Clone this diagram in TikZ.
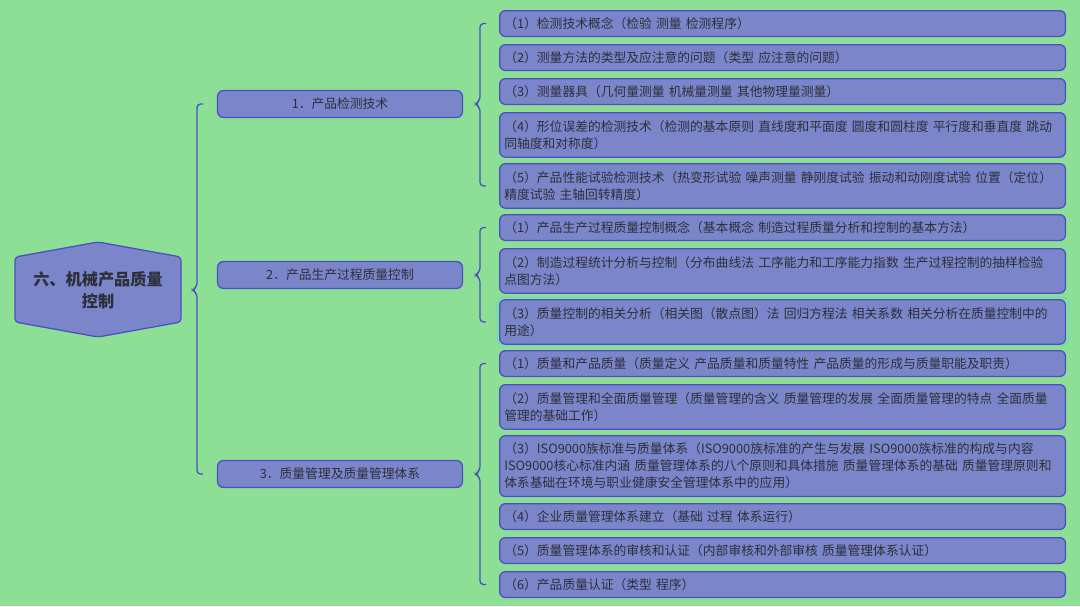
\documentclass[tikz,border=0pt]{standalone}
\usepackage{fontspec}
\setmainfont{Noto Sans CJK SC}
\usetikzlibrary{calc}
\definecolor{bgc}{HTML}{8EDF96}
\definecolor{boxc}{HTML}{7A86C9}
\definecolor{edgec}{HTML}{4B4FC2}
\definecolor{txt}{HTML}{2E2E3A}
\definecolor{hilite}{HTML}{5FD3D8}

\tikzset{
  leaf/.style={draw=edgec, fill=boxc, rounded corners=5pt, line width=1.1pt,
    anchor=north west, text width=475pt, inner xsep=4pt, inner ysep=1pt,
    align=left, text=txt, font=\fontsize{10.9}{14.5}\selectfont},
  mid/.style={draw=edgec, fill=boxc, rounded corners=5pt, line width=1.1pt,
    minimum width=209pt, minimum height=23pt, text=txt,
    font=\fontsize{10.9}{12}\selectfont},
  brace/.style={draw=edgec, line width=1.1pt, rounded corners=3pt}
}
% brace from #2 to #3 with its tip level with #1, at x = #4
\newcommand{\grp}[4]{%
  \path (#4,0 |- #1) coordinate (tp);
  \draw[brace] ({#4+6},0 |- #2) -- (#4,0 |- #2) -- ([yshift=3pt]tp)
    -- ([xshift=-4pt]tp) -- ([yshift=-3pt]tp) -- (#4,0 |- #3) -- ({#4+6},0 |- #3);
}

\begin{document}
\begin{tikzpicture}[x=0.03cm, y=-0.03cm]

% background
\fill[bgc] (0,0) rectangle (1080,606);
\useasboundingbox (0,0) rectangle (1080,606);

% root
\filldraw[fill=boxc, draw=edgec, line width=1.1pt, rounded corners=3pt]
  (98,242) -- (181,257) -- (181,322) -- (98,337) -- (15,322) -- (15,257) -- cycle;
\node[align=center, text=txt, font=\fontsize{13.8}{19}\selectfont\bfseries]
  (root) at (98,290) {六、机械产品质量\\控制};

% branches
\node[mid] (m1) at (340,104) {1．产品检测技术};
\node[mid] (m2) at (340,275) {2．产品生产过程质量控制};
\node[mid] (m3) at (340,474) {3．质量管理及质量管理体系};

% leaves of 1
\node[leaf, minimum height=22pt] (a1) at (499,10) {（1）检测技术概念（检验 测量 检测程序）};
\node[leaf, minimum height=22pt] (a2) at (499,44) {（2）测量方法的类型及应注意的问题（类型 应注意的问题）};
\node[leaf, minimum height=22pt] (a3) at (499,78) {（3）测量器具（几何量测量 机械量测量 其他物理量测量）};
\node[leaf, minimum height=38pt] (a4) at (499,112) {（4）形位误差的检测技术（检测的基本原则 直线度和平面度 圆度和圆柱度 平行度和垂直度 跳动\\同轴度和对称度）};
\node[leaf, minimum height=38pt] (a5) at (499,163) {（5）产品性能试验检测技术（热变形试验 噪声测量 静刚度试验 振动和动刚度试验 位置（定位）\\精度试验 主轴回转精度）};

% leaves of 2
\node[leaf, minimum height=22pt] (b1) at (499,214) {（1）产品生产过程质量控制概念（基本概念 制造过程质量分析和控制的基本方法）};
\node[leaf, minimum height=38pt] (b2) at (499,248) {（2）制造过程统计分析与控制（分布曲线法 工序能力和工序能力指数 生产过程控制的抽样检验\\点图方法）};
\draw[hilite, line width=0.8pt, rounded corners=6pt] (497,297) rectangle (1069,345);
\node[leaf, minimum height=38pt] (b3) at (499,299) {（3）质量控制的相关分析（相关图（散点图）法 回归方程法 相关系数 相关分析在质量控制中的\\用途）};

% leaves of 3
\node[leaf, minimum height=22pt] (c1) at (499,350) {（1）质量和产品质量（质量定义 产品质量和质量特性 产品质量的形成与质量职能及职责）};
\node[leaf, minimum height=38pt] (c2) at (499,384) {（2）质量管理和全面质量管理（质量管理的含义 质量管理的发展 全面质量管理的特点 全面质量\\管理的基础工作）};
\node[leaf, minimum height=52pt] (c3) at (499,435) {（3）ISO9000族标准与质量体系（ISO9000族标准的产生与发展 ISO9000族标准的构成与内容\\ISO9000核心标准内涵 质量管理体系的八个原则和具体措施 质量管理体系的基础 质量管理原则和\\体系基础在环境与职业健康安全管理体系中的应用）};
\node[leaf, minimum height=22pt] (c4) at (499,503) {（4）企业质量管理体系建立（基础 过程 体系运行）};
\node[leaf, minimum height=22pt] (c5) at (499,537) {（5）质量管理体系的审核和认证（内部审核和外部审核 质量管理体系认证）};
\node[leaf, minimum height=22pt] (c6) at (499,571) {（6）产品质量认证（类型 程序）};

% braces
\grp{root}{m1}{m3}{197}
\grp{m1}{a1}{a5}{480}
\grp{m2}{b1}{b3}{480}
\grp{m3}{c1}{c6}{480}

\end{tikzpicture}
\end{document}
